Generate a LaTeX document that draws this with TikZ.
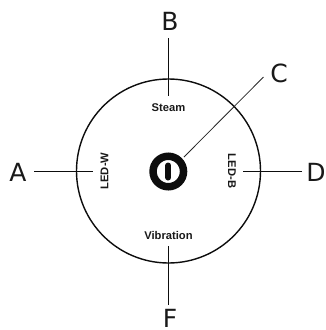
\documentclass[tikz,border=0pt]{standalone}
\usepackage{fontspec}
\setmainfont{DejaVu Sans}
\newfontfamily\lblfont{Liberation Sans}
\begin{document}
\begin{tikzpicture}[x=1pt,y=-1pt,
  inkc/.style={draw=black!95},
  letterlbl/.style={font=\fontsize{25}{25}\selectfont,text=black!90,inner sep=0pt},
  panel/.style={font=\lblfont\bfseries\fontsize{11.2}{12}\selectfont,text=black!90,inner sep=0pt},
  leader/.style={inkc,line width=1pt},
  leaderthin/.style={draw=black!85,line width=0.8pt}]
\useasboundingbox (0,0) rectangle (325,330);
\node[circle,inkc,line width=1.4pt,minimum size=184pt,inner sep=0pt] (dial) at (168.5,171) {};
\node[circle,draw=black!95,line width=7.5pt,minimum size=30.5pt,inner sep=0pt] (power) at (168.3,171.5) {};
\draw[black!95,line width=6pt,line cap=round] (168.3,165.5) -- (168.3,177.5);
\node[letterlbl] (A) at (18,172.5) {A};
\node[letterlbl] (B) at (170,21) {B};
\node[letterlbl] (C) at (279,73) {C};
\node[letterlbl] (D) at (316,172) {D};
\node[letterlbl,anchor=base] (F) at (170,327.5) {F};
\node[panel] (steam) at (168.5,108) {Steam};
\node[panel] (vib) at (168.5,235) {Vibration};
\node[panel,rotate=90] (ledw) at (104.5,171) {LED-W};
\node[panel,rotate=-90] (ledb) at (232,171) {LED-B};
\coordinate (a0) at (34,171); \coordinate (a1) at (93,171);
\coordinate (b0) at (168.5,38); \coordinate (b1) at (168.5,96);
\coordinate (c0) at (263.5,77); \coordinate (c1) at (184,157);
\coordinate (d0) at (302,171); \coordinate (d1) at (243,171);
\coordinate (f0) at (168.5,305); \coordinate (f1) at (168.5,246);
\draw[leader] (a0) -- (a1);
\draw[leader] (b0) -- (b1);
\draw[leaderthin] (c0) -- (c1);
\draw[leader] (d0) -- (d1);
\draw[leader] (f0) -- (f1);
\end{tikzpicture}
\end{document}
